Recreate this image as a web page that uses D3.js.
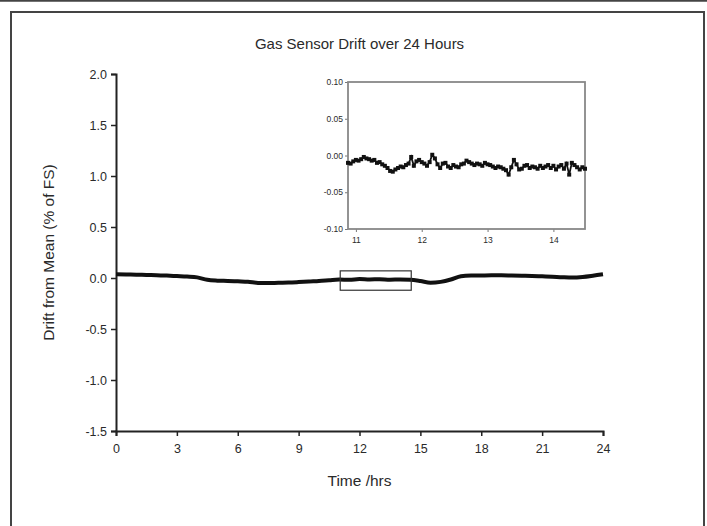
<!DOCTYPE html>
<html lang="en">
<head>
    <meta charset="UTF-8">
    <title>Gas Sensor Drift</title>
    <script src="https://cdn.jsdelivr.net/npm/d3@7"></script>
    <style>
        body { margin: 0; background: #fff; }
        text { font-family: "Liberation Sans", Arial, sans-serif; fill: #2a2a2a; }
    </style>
</head>
<body>
    <div id="chart-space"></div>

    <script>
        // main series: drift (% of FS), one reading every half hour from 0 to 24 hrs
        var mainStep = 0.5;
        var mainDrift = [
            0.036, 0.034, 0.033, 0.030, 0.028, 0.024, 0.019, 0.014, 0.006, -0.018,
            -0.026, -0.029, -0.033, -0.037, -0.048, -0.050, -0.047, -0.045, -0.040, -0.034,
            -0.029, -0.022, -0.015, -0.018, -0.010, -0.014, -0.012, -0.016, -0.015, -0.018,
            -0.030, -0.046, -0.038, -0.015, 0.018, 0.024, 0.025, 0.026, 0.026, 0.024,
            0.022, 0.020, 0.016, 0.012, 0.007, 0.004, 0.010, 0.022, 0.036
        ];

        // inset series: zoomed readings from 10.88 hrs, every 0.04 hrs
        var insetStart = 10.88;
        var insetStep = 0.04;
        var insetDrift = [
            -0.010, -0.011, -0.008, -0.006, -0.007, -0.005, -0.002, -0.004, -0.005, -0.007,
            -0.006, -0.010, -0.009, -0.012, -0.014, -0.017, -0.021, -0.022, -0.019, -0.017,
            -0.015, -0.016, -0.013, -0.011, -0.002, -0.014, -0.008, -0.006, -0.009, -0.011,
            -0.014, -0.009, 0.001, -0.004, -0.012, -0.017, -0.011, -0.010, -0.015, -0.017,
            -0.013, -0.015, -0.016, -0.012, -0.011, -0.007, -0.009, -0.011, -0.013, -0.011,
            -0.012, -0.014, -0.010, -0.012, -0.013, -0.015, -0.017, -0.015, -0.016, -0.018,
            -0.020, -0.026, -0.016, -0.006, -0.012, -0.019, -0.018, -0.014, -0.013, -0.017,
            -0.015, -0.016, -0.018, -0.014, -0.017, -0.015, -0.013, -0.017, -0.014, -0.019,
            -0.015, -0.013, -0.018, -0.011, -0.026, -0.010, -0.013, -0.016, -0.019, -0.016,
            -0.018
        ];

        var xTicks = [0, 3, 6, 9, 12, 15, 18, 21, 24];
        var yTicks = [-1.5, -1.0, -0.5, 0.0, 0.5, 1.0, 1.5, 2.0];
        var insetXTicks = [11, 12, 13, 14];
        var insetYTicks = [-0.10, -0.05, 0.00, 0.05, 0.10];
        var zoomBoxX = [11.05, 14.55];   // hrs
        var zoomBoxY = [-0.12, 0.07];    // % of FS

        var width = 707;
        var height = 526;

        var mainData = mainDrift.map(function(v, i) { return {t: i * mainStep, v: v}; });
        var insetData = insetDrift.map(function(v, i) { return {t: insetStart + i * insetStep, v: v}; });

        var svg = d3.select("#chart-space")
            .append("svg")
            .attr("width", width)
            .attr("height", height);

        // page frame
        svg.append("line")
            .attr("x1", 0).attr("x2", width).attr("y1", 0.8).attr("y2", 0.8)
            .attr("stroke", "#444").attr("stroke-width", 2);
        svg.append("path")
            .attr("d", "M11," + (height + 5) + "V12H704V" + (height + 5))
            .attr("fill", "none").attr("stroke", "#444").attr("stroke-width", 2);

        // main scales
        var xScale = d3.scaleLinear().domain([0, 24]).range([116, 603]);
        var yScale = d3.scaleLinear().domain([-1.5, 2.0]).range([431, 74]);

        var fmt1 = d3.format(".1f");
        function minus(s) { return s.replace("−", "-"); }

        // x axis
        var xAxis = svg.append("g")
            .attr("transform", "translate(0," + yScale(-1.5) + ")");
        xAxis.call(d3.axisBottom(xScale).tickValues(d3.range(0, 24.1, 1.5)).tickSize(3).tickFormat(""));
        xAxis.call(d3.axisBottom(xScale).tickValues(xTicks).tickSize(5).tickPadding(8).tickFormat(d3.format("d")));
        xAxis.selectAll("text").style("font-size", "12.5px").attr("fill", "#2a2a2a");

        // y axis
        var yAxis = svg.append("g")
            .attr("transform", "translate(" + xScale(0) + ",0)");
        yAxis.call(d3.axisLeft(yScale).tickValues(d3.range(-1.5, 2.01, 0.25)).tickSize(3).tickFormat(""));
        yAxis.call(d3.axisLeft(yScale).tickValues(yTicks).tickSize(5).tickPadding(4)
            .tickFormat(function(d) { return minus(fmt1(d)); }));
        yAxis.selectAll("text").style("font-size", "12.5px").attr("fill", "#2a2a2a");

        svg.selectAll(".domain").attr("stroke", "#222").attr("stroke-width", 2);
        svg.selectAll(".tick line").attr("stroke", "#222").attr("stroke-width", 1.5);

        // main trace
        var line = d3.line()
            .curve(d3.curveMonotoneX)
            .x(function(d) { return xScale(d.t); })
            .y(function(d) { return yScale(d.v); });

        svg.append("path")
            .datum(mainData)
            .attr("d", line)
            .attr("fill", "none")
            .attr("stroke", "#111")
            .attr("stroke-width", 4);

        // zoom box on main chart
        svg.append("rect")
            .attr("x", xScale(zoomBoxX[0]))
            .attr("y", yScale(zoomBoxY[1]))
            .attr("width", xScale(zoomBoxX[1]) - xScale(zoomBoxX[0]))
            .attr("height", yScale(zoomBoxY[0]) - yScale(zoomBoxY[1]))
            .attr("fill", "none")
            .attr("stroke", "#333")
            .attr("stroke-width", 1.2);

        // titles
        svg.append("text")
            .attr("x", (xScale(0) + xScale(24)) / 2)
            .attr("y", 49)
            .attr("text-anchor", "middle")
            .style("font-size", "15px")
            .text("Gas Sensor Drift over 24 Hours");

        svg.append("text")
            .attr("x", (xScale(0) + xScale(24)) / 2)
            .attr("y", 486)
            .attr("text-anchor", "middle")
            .style("font-size", "15.5px")
            .text("Time /hrs");

        svg.append("text")
            .attr("transform", "translate(54," + (yScale(-1.5) + yScale(2.0)) / 2 + ") rotate(-90)")
            .attr("text-anchor", "middle")
            .style("font-size", "15.5px")
            .text("Drift from Mean (% of FS)");

        // inset
        var ix = d3.scaleLinear().domain([10.88, 14.48]).range([348, 585]);
        var iy = d3.scaleLinear().domain([-0.10, 0.10]).range([229, 82]);

        var inset = svg.append("g");

        var ixAxis = inset.append("g").attr("transform", "translate(0,229)");
        ixAxis.call(d3.axisBottom(ix).tickValues([11.5, 12.5, 13.5]).tickSize(2).tickFormat(""));
        ixAxis.call(d3.axisBottom(ix).tickValues(insetXTicks).tickSize(3).tickPadding(5).tickFormat(d3.format("d")));

        var iyAxis = inset.append("g").attr("transform", "translate(348,0)");
        iyAxis.call(d3.axisLeft(iy).tickValues([-0.075, -0.025, 0.025, 0.075]).tickSize(2).tickFormat(""));
        iyAxis.call(d3.axisLeft(iy).tickValues(insetYTicks).tickSize(3).tickPadding(2)
            .tickFormat(function(d) { return minus(d3.format(".2f")(d)); }));

        inset.selectAll("text").style("font-size", "8.5px").attr("fill", "#2a2a2a");
        inset.selectAll(".domain").remove();
        inset.selectAll(".tick line").attr("stroke", "#777").attr("stroke-width", 1);

        inset.append("rect")
            .attr("x", 348).attr("y", 82)
            .attr("width", 585 - 348).attr("height", 229 - 82)
            .attr("fill", "none")
            .attr("stroke", "#888")
            .attr("stroke-width", 1.8);

        var iline = d3.line()
            .x(function(d) { return ix(d.t); })
            .y(function(d) { return iy(d.v); });

        inset.append("path")
            .datum(insetData)
            .attr("d", iline)
            .attr("fill", "none")
            .attr("stroke", "#111")
            .attr("stroke-width", 1.8);

        inset.selectAll(".pt")
            .data(insetData)
            .join("rect")
            .attr("class", "pt")
            .attr("x", function(d) { return ix(d.t) - 2; })
            .attr("y", function(d) { return iy(d.v) - 2; })
            .attr("width", 4)
            .attr("height", 4)
            .attr("fill", "#111");
    </script>
</body>
</html>
